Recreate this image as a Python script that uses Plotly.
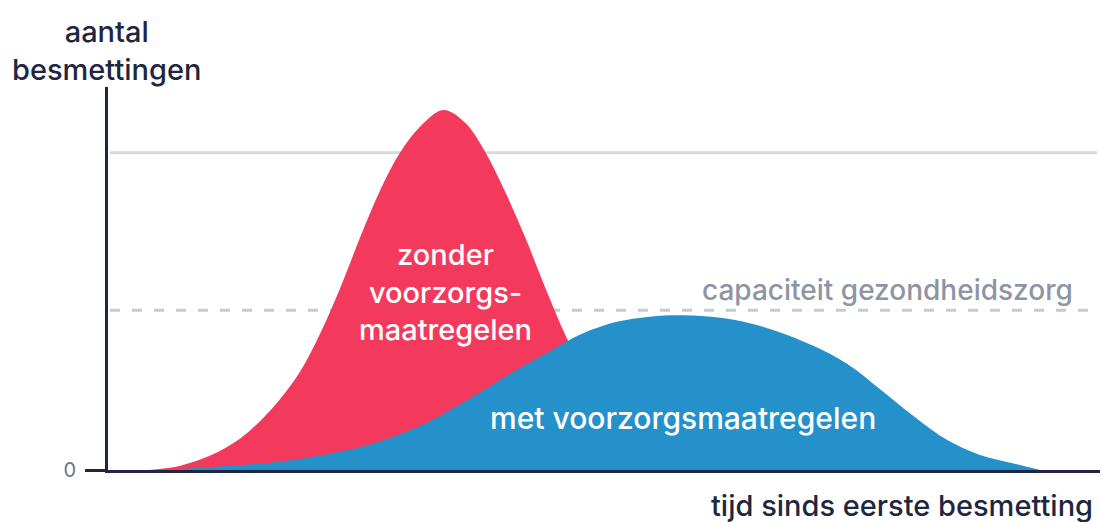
import plotly.graph_objects as go

# --- data (x: time units 0-100, y: infections, red peak = 100) ---
red_x = [4.2, 7.3, 10.3, 13.3, 15.3, 17.3, 19.4, 21.4, 23.4, 25.4, 27.4, 29.4, 31.5, 33.8,
         36.0, 38.0, 40.0, 42.0, 44.1, 46.1, 48.1, 50.1, 52.1, 54.6, 57.7, 61.7, 65.7]
red_y = [0, 1.2, 4.0, 8.7, 13.5, 19.5, 27.5, 38.0, 50.5, 64.5, 77.5, 88.0, 95.5, 100,
         96.5, 88.5, 77.5, 65.0, 50.5, 37.5, 26.5, 18.0, 12.0, 6.5, 3.0, 0.8, 0]

blue_x = [5.8, 9.3, 16.0, 19.4, 22.7, 25.4, 28.4, 31.5, 34.5, 37.5, 40.5, 43.6, 46.3, 48.6,
          51.3, 54.6, 58.0, 61.7, 64.7, 67.7, 71.1, 74.5, 77.8, 81.2, 84.6, 87.9, 91.2, 94.0]
blue_y = [0, 0.6, 1.9, 3.1, 4.7, 6.3, 8.9, 12.3, 16.7, 21.5, 26.7, 31.5, 35.8, 38.8,
          41.2, 42.6, 43.0, 42.3, 40.8, 38.3, 34.5, 29.5, 22.5, 15.0, 8.3, 4.2, 1.9, 0]

capacity_level = 44.4
upper_level = 88.1

y_tick_vals = [0]
y_tick_text = ["0"]

RED = "#F43A5C"
BLUE = "#2491CB"
NAVY = "#1E2640"
GREY_TXT = "#8E94A3"
FONT = "Inter, 'Open Sans', sans-serif"

fig = go.Figure()
fig.add_trace(go.Scatter(x=red_x, y=red_y, mode="lines",
                         line=dict(color=RED, width=0, shape="spline", smoothing=1.0),
                         fill="tozeroy", fillcolor=RED, hoverinfo="skip"))
fig.add_trace(go.Scatter(x=blue_x, y=blue_y, mode="lines",
                         line=dict(color=BLUE, width=0, shape="spline", smoothing=1.0),
                         fill="tozeroy", fillcolor=BLUE, hoverinfo="skip"))

fig.add_shape(type="line", xref="x", yref="y", x0=0.2, x1=99.7, y0=upper_level, y1=upper_level,
              line=dict(color="#D6D9DE", width=3), layer="below")
fig.add_shape(type="line", xref="x", yref="y", x0=0.2, x1=100, y0=capacity_level, y1=capacity_level,
              line=dict(color="#C6CAD1", width=3, dash="10px,12px"), layer="below")

ann_font = dict(family=FONT, size=29, color="white", weight=500)
fig.add_annotation(x=34.0, y=49.4, xref="x", yref="y", text="zonder<br>voorzorgs-<br>maatregelen",
                   showarrow=False, font=ann_font, align="center")
fig.add_annotation(x=58.0, y=14.4, xref="x", yref="y", text="met voorzorgsmaatregelen",
                   showarrow=False, font=dict(family=FONT, size=30, color="white", weight=500))
fig.add_annotation(x=78.6, y=50.0, xref="x", yref="y", text="capaciteit gezondheidszorg",
                   showarrow=False, font=dict(family=FONT, size=28, color=GREY_TXT, weight=500))
fig.add_annotation(x=0.995, y=-0.0914, xref="paper", yref="paper", text="tijd sinds eerste besmetting",
                   showarrow=False, xanchor="right", yanchor="middle",
                   font=dict(family=FONT, size=29, color=NAVY, weight=500))
fig.add_annotation(x=-0.001, y=1.094, xref="paper", yref="paper", text="aantal<br>besmettingen",
                   showarrow=False, align="center", xanchor="center", yanchor="middle",
                   font=dict(family=FONT, size=29, color=NAVY, weight=500))

fig.update_xaxes(range=[0, 100], showgrid=False, zeroline=False, showticklabels=False, ticks="",
                 showline=True, linecolor=NAVY, linewidth=3)
fig.update_yaxes(range=[0, 106.4], showgrid=False, zeroline=False, tickvals=y_tick_vals, ticktext=y_tick_text,
                 ticks="outside", ticklen=20, tickwidth=3, tickcolor=NAVY, ticklabelstandoff=5,
                 tickfont=dict(family=FONT, size=20, color="#6E7380"),
                 showline=True, linecolor=NAVY, linewidth=3)

fig.update_layout(width=1102, height=522, margin=dict(l=108, r=2, t=87, b=52),
                  paper_bgcolor="white", plot_bgcolor="white", showlegend=False)

fig.write_html("out.html", config={"displayModeBar": False},
               post_script="document.body.style.margin='0';")
